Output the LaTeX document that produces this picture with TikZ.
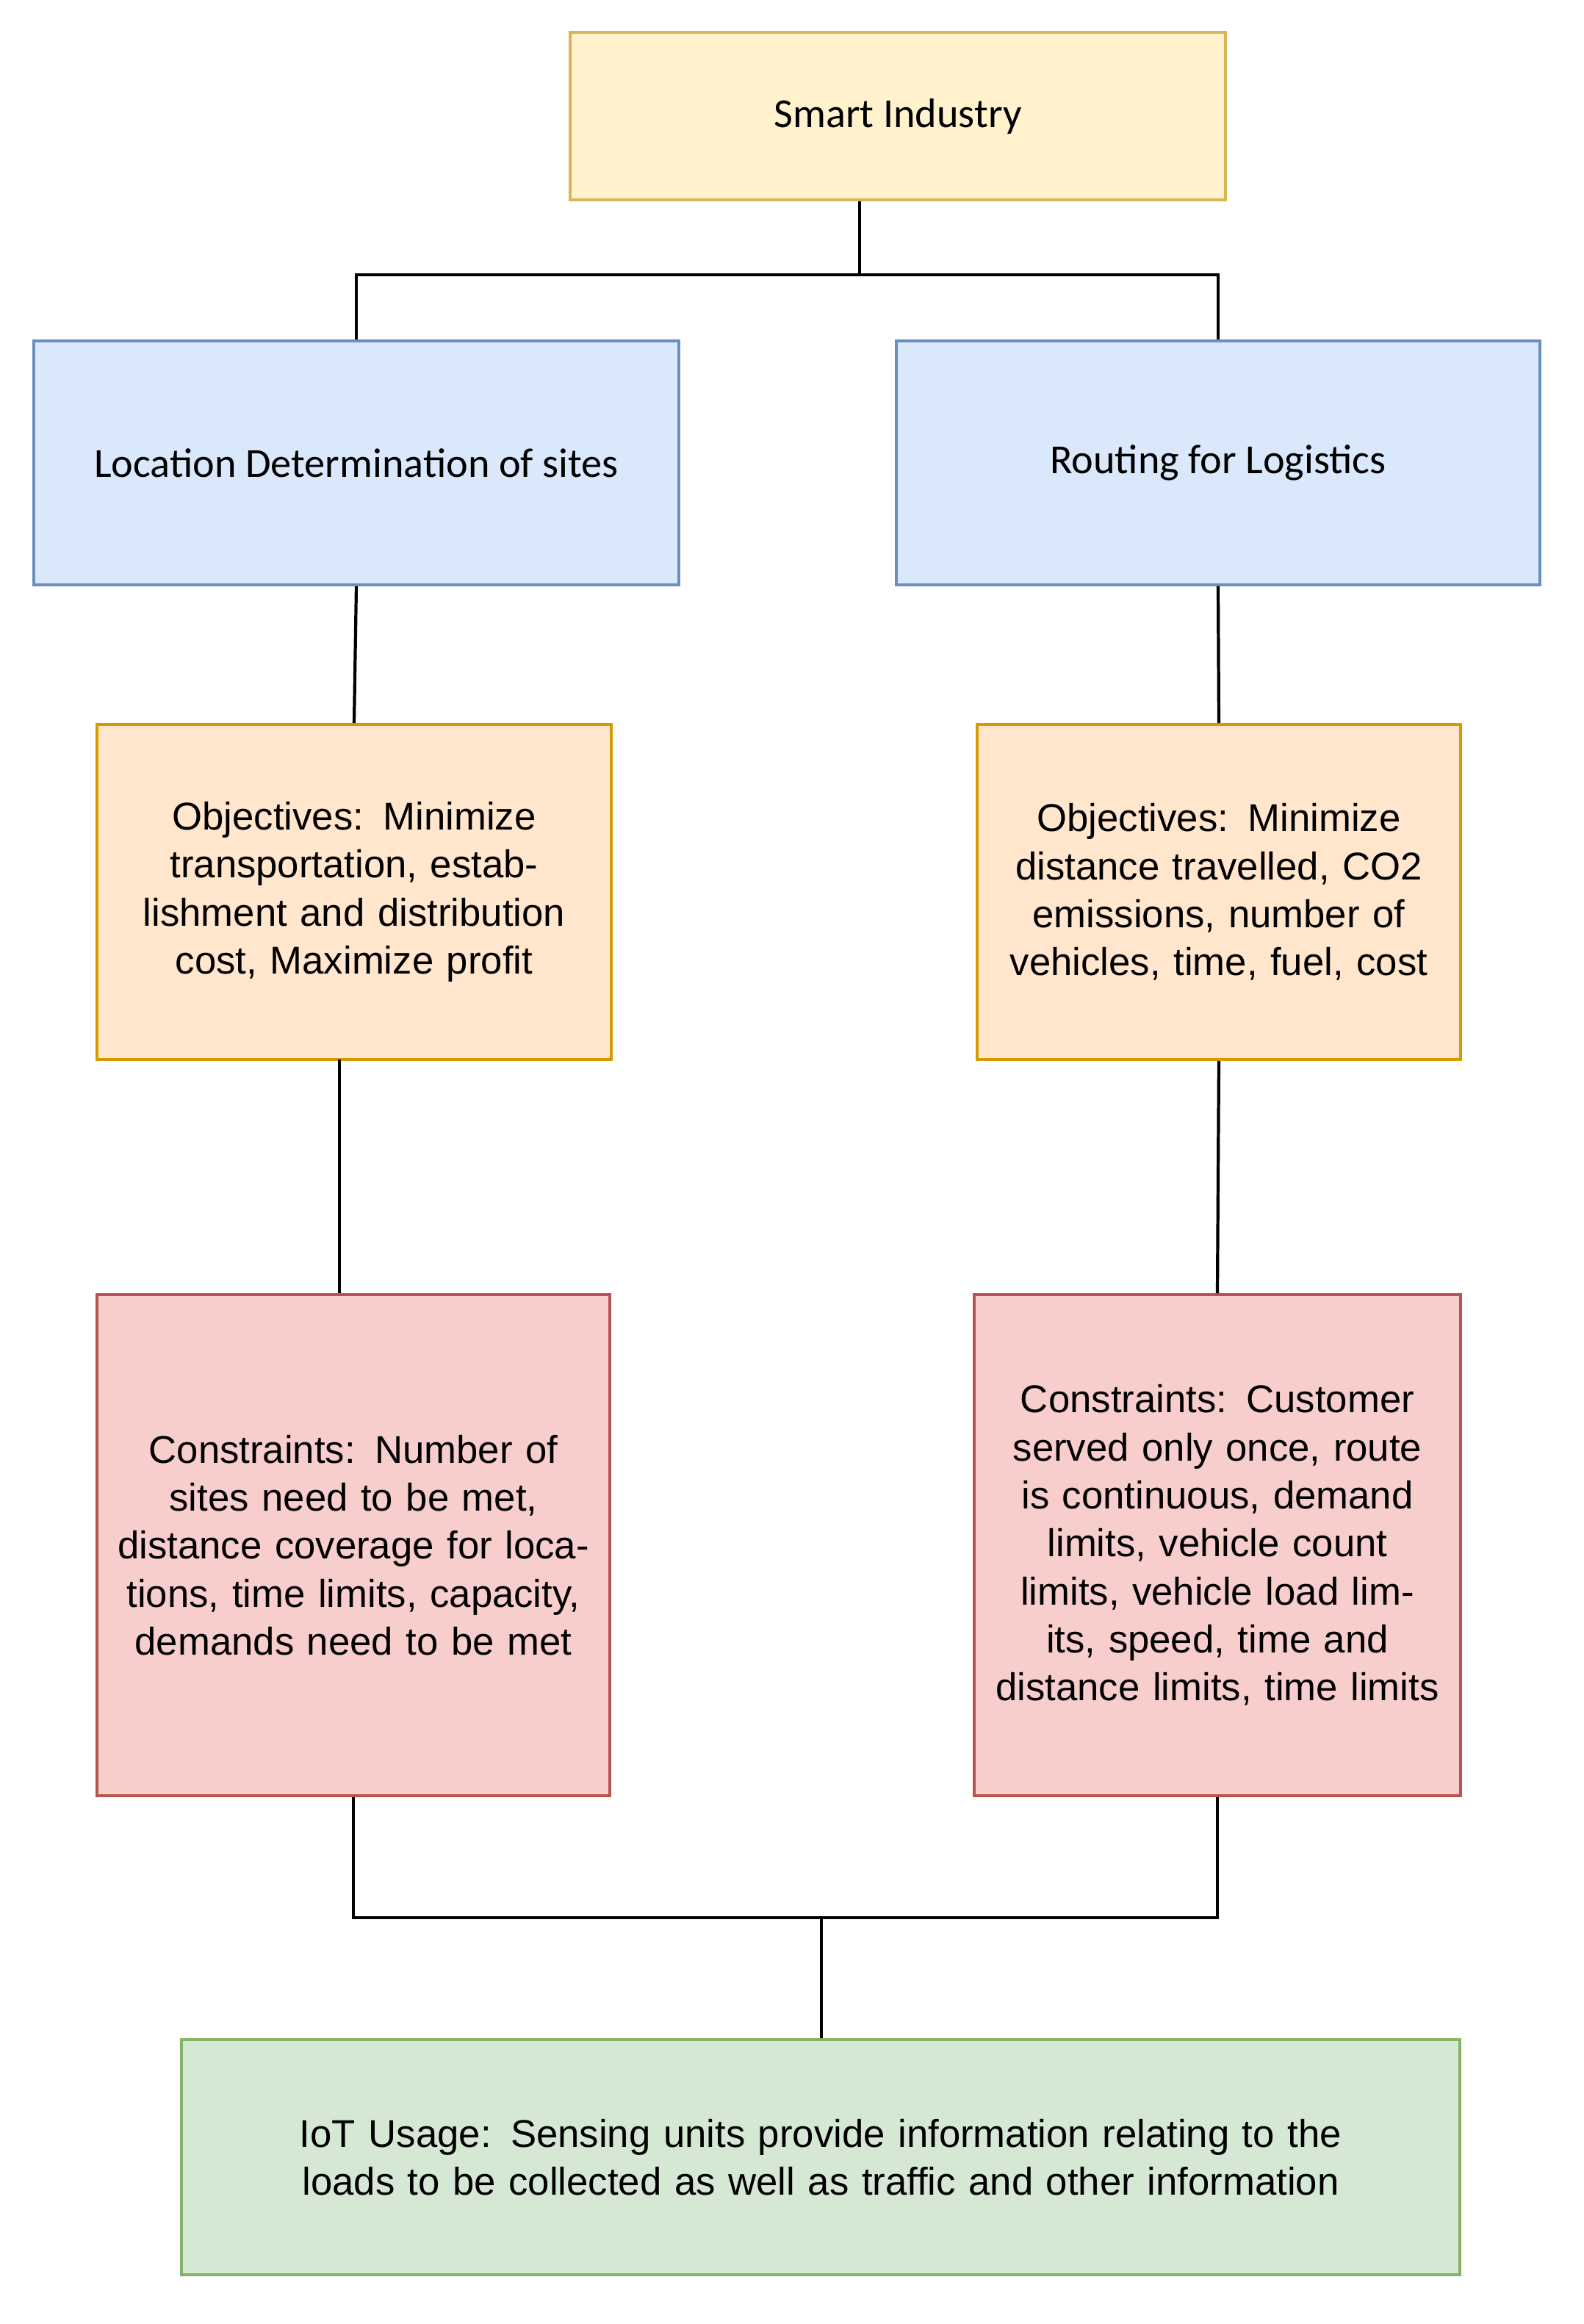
\documentclass[tikz,border=0pt]{standalone}
\usepackage{fontspec}
\setmainfont{Liberation Sans}
\newfontfamily\carfont{Carlito}
\begin{document}
\begin{tikzpicture}[x=0.02cm,y=-0.02cm,
 box/.style={draw,line width=1.1pt,align=center,inner sep=0pt,font=\fontsize{15}{18.6}\selectfont},
 yel/.style={box,fill={rgb,255:red,255;green,242;blue,204},draw={rgb,255:red,214;green,182;blue,86}},
 blu/.style={box,fill={rgb,255:red,218;green,232;blue,252},draw={rgb,255:red,108;green,142;blue,191}},
 ora/.style={box,fill={rgb,255:red,255;green,230;blue,204},draw={rgb,255:red,215;green,155;blue,0}},
 red/.style={box,fill={rgb,255:red,248;green,206;blue,204},draw={rgb,255:red,184;green,84;blue,80}},
 gre/.style={box,fill={rgb,255:red,213;green,232;blue,212},draw={rgb,255:red,130;green,179;blue,102}},
 ln/.style={line width=1.2pt}]
\useasboundingbox (0,0) rectangle (1077.5,1581.5);
\node[yel,minimum width=446*0.02cm,minimum height=114*0.02cm,font=\carfont\fontsize{16}{19}\selectfont] (si) at (611,79) {Smart Industry};
\node[blu,minimum width=439*0.02cm,minimum height=166*0.02cm,font=\carfont\fontsize{16}{19}\selectfont] (loc) at (242.5,315) {Location Determination of sites};
\node[blu,minimum width=438*0.02cm,minimum height=166*0.02cm,font=\carfont\fontsize{16}{19}\selectfont] (rt) at (829,315) {Routing for Logistics};
\node[ora,minimum width=350*0.02cm,minimum height=228*0.02cm,text width=6.6cm] (ol) at (241,607) {Objectives: Minimize transportation, establishment and distribution cost, Maximize profit};
\node[ora,minimum width=329*0.02cm,minimum height=228*0.02cm,text width=6.4cm] (or) at (829.5,607) {Objectives: Minimize distance travelled, CO2 emissions, number of vehicles, time, fuel, cost};
\node[red,minimum width=349*0.02cm,minimum height=341*0.02cm,text width=6.6cm] (cl) at (240.5,1051.5) {Constraints: Number of sites need to be met, distance coverage for locations, time limits, capacity, demands need to be met};
\node[red,minimum width=331*0.02cm,minimum height=341*0.02cm,text width=6.5cm] (cr) at (828.5,1051.5) {Constraints: Customer served only once, route is continuous, demand limits, vehicle count limits, vehicle load limits, speed, time and distance limits, time limits};
\node[gre,minimum width=869*0.02cm,minimum height=160*0.02cm,text width=17.4cm] (iot) at (558.5,1468) {IoT Usage: Sensing units provide information relating to the loads to be collected as well as traffic and other information};
\coordinate (j1) at (585,187);
\coordinate (j2) at (559,1305);
\coordinate (a) at (231,721);
\draw[ln] (si.south -| j1) -- (j1);
\draw[ln] (j1) -| (loc.north);
\draw[ln] (j1) -| (rt.north);
\draw[ln] (loc.south) -- (ol.north);
\draw[ln] (rt.south) -- (or.north);
\draw[ln] (a) -- (a |- cl.north);
\draw[ln] (or.south) -- (cr.north);
\draw[ln] (cl.south) |- (j2);
\draw[ln] (cr.south) |- (j2);
\draw[ln] (j2) -- (iot.north -| j2);
\end{tikzpicture}
\end{document}
